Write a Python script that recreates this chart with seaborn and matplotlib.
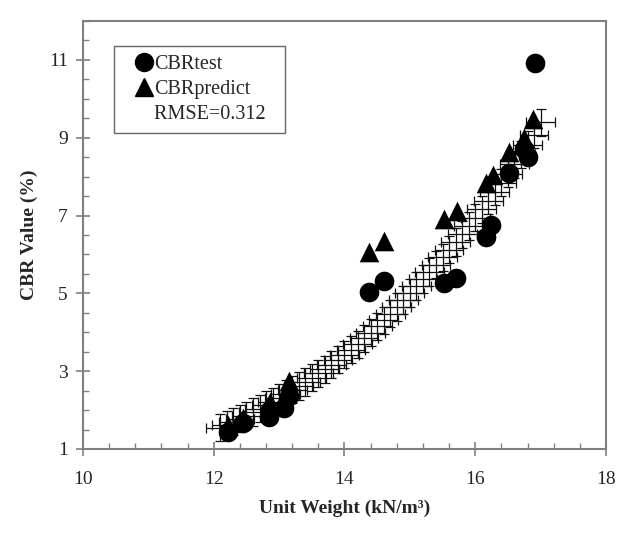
import numpy as np
import pandas as pd
import seaborn as sns
import matplotlib.pyplot as plt
from matplotlib.lines import Line2D
from matplotlib.ticker import MultipleLocator

# measured CBR values
test_x = [12.22, 12.45, 12.84, 12.86, 13.08, 13.15, 14.37, 14.61, 15.52, 15.70,
          16.16, 16.24, 16.51, 16.75, 16.80, 16.91]
test_y = [1.44, 1.67, 1.82, 2.00, 2.05, 2.35, 5.04, 5.32, 5.27, 5.40,
          6.45, 6.76, 8.10, 8.70, 8.51, 10.92]

# predicted CBR values
pred_x = [12.22, 12.45, 12.84, 12.86, 13.10, 13.15, 14.37, 14.61, 15.52, 15.72,
          16.16, 16.27, 16.51, 16.72, 16.75, 16.88]
pred_y = [1.62, 1.80, 2.00, 2.20, 2.45, 2.75, 6.06, 6.35, 6.90, 7.12,
          7.84, 8.04, 8.63, 8.80, 9.00, 9.48]

# prediction band (points with error bars)
band_x = [12.1, 12.2, 12.3, 12.4, 12.5, 12.6, 12.7, 12.8, 12.9, 13.0,
          13.1, 13.2, 13.3, 13.4, 13.5, 13.6, 13.7, 13.8, 13.9, 14.0,
          14.1, 14.2, 14.3, 14.4, 14.5, 14.6, 14.7, 14.8, 14.9, 15.0,
          15.1, 15.2, 15.3, 15.4, 15.5, 15.6, 15.7, 15.8, 15.9, 16.0,
          16.1, 16.2, 16.3, 16.4, 16.5, 16.6, 16.7, 16.8, 16.9, 17.0]
band_y = [1.55, 1.62, 1.70, 1.78, 1.86, 1.95, 2.04, 2.13, 2.22, 2.32,
          2.42, 2.52, 2.62, 2.72, 2.83, 2.94, 3.05, 3.17, 3.29, 3.42,
          3.55, 3.69, 3.84, 3.99, 4.15, 4.31, 4.48, 4.65, 4.83, 5.01,
          5.19, 5.37, 5.55, 5.74, 5.93, 6.12, 6.32, 6.52, 6.73, 6.94,
          7.16, 7.38, 7.61, 7.84, 8.08, 8.32, 8.57, 8.82, 9.08, 9.40]
band_xerr = 0.22
band_yerr = 0.35

rmse_text = "RMSE=0.312"

sns.set_style("ticks")
plt.rcParams['font.family'] = ['Liberation Serif', 'DejaVu Serif']

fig = plt.figure(figsize=(6.26, 5.48), dpi=100)
ax = fig.add_axes([0.1326, 0.1807, 0.8354, 0.781])

ax.errorbar(band_x, band_y, xerr=band_xerr, yerr=band_yerr, fmt='none',
            ecolor='#111111', elinewidth=0.9, capsize=3.5, capthick=0.9, zorder=2)

df_test = pd.DataFrame({"x": test_x, "y": test_y})
df_pred = pd.DataFrame({"x": pred_x, "y": pred_y})
sns.scatterplot(data=df_test, x="x", y="y", ax=ax, marker='o', s=200,
                color='black', edgecolor='black', linewidth=0, zorder=3)
sns.scatterplot(data=df_pred, x="x", y="y", ax=ax, marker='^', s=200,
                color='black', edgecolor='black', linewidth=0, zorder=3)

ax.set_xlim(10, 18)
ax.set_ylim(1, 12)
ax.xaxis.set_major_locator(MultipleLocator(2))
ax.xaxis.set_minor_locator(MultipleLocator(0.4))
ax.set_yticks([1, 3, 5, 7, 9, 11])
ax.yaxis.set_minor_locator(MultipleLocator(0.5))

grey = '#808080'
for sp in ax.spines.values():
    sp.set_color(grey)
    sp.set_linewidth(1.5)
ax.tick_params(which='major', direction='inout', length=10, width=1.2,
               color=grey, labelsize=14)
ax.tick_params(axis='x', which='major', pad=11)
ax.tick_params(axis='y', which='major', pad=6)
ax.tick_params(which='minor', direction='in', length=4, width=1.0, color=grey)

ax.set_xlabel("Unit Weight (kN/m³)", fontsize=14, fontweight='bold', labelpad=8)
ax.set_ylabel("CBR Value (%)", fontsize=14, fontweight='bold', labelpad=8)

handles = [
    Line2D([], [], marker='o', color='black', linestyle='none', markersize=13),
    Line2D([], [], marker='^', color='black', linestyle='none', markersize=13),
    Line2D([], [], linestyle='none'),
]
labels = ["CBRtest", "CBRpredict", rmse_text + "  "]
leg = ax.legend(handles, labels, loc='upper left', bbox_to_anchor=(0.059, 0.942),
                fontsize=14.5, frameon=True, fancybox=False, handlelength=2.05,
                handletextpad=-0.5, borderpad=0.45, labelspacing=0.3,
                borderaxespad=0)
leg.get_frame().set_edgecolor('#404040')
leg.get_frame().set_linewidth(1.0)

fig.savefig("out.png", dpi=100)
